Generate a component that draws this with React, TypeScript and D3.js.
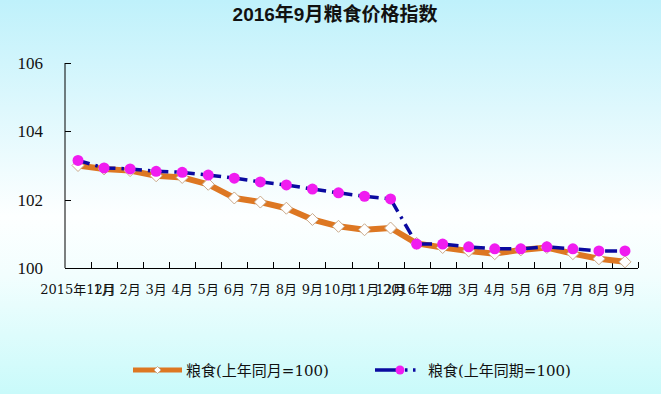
import React from 'react';
import * as d3 from 'd3';

// category labels as printed under the axis
const months = [
  '2015年12月', '1月', '2月', '3月', '4月', '5月', '6月', '7月', '8月', '9月', '10月', '11月',
  '12月', '2016年1月', '2月', '3月', '4月', '5月', '6月', '7月', '8月', '9月'
];
// 上年同月=100
const monthly = [
  103.0, 102.9, 102.85, 102.7, 102.65, 102.45, 102.05, 101.93, 101.75, 101.42, 101.22, 101.12,
  101.17, 100.72, 100.6, 100.5, 100.42, 100.53, 100.6, 100.42, 100.27, 100.18
];
// 上年同期=100
const cumulative = [
  103.15, 102.93, 102.9, 102.83, 102.8, 102.72, 102.63, 102.52, 102.43, 102.31, 102.2, 102.1,
  102.02, 100.7, 100.7, 100.62, 100.56, 100.56, 100.62, 100.56, 100.5, 100.5
];
const yTicks = [100, 102, 104, 106];

const title = '2016年9月粮食价格指数';
const seriesNames = ['粮食(上年同月=100)', '粮食(上年同期=100)'];

const W = 661;
const H = 394;
const left = 65;
const right = 638;
const top = 63;
const bottom = 268;

const ORANGE = '#dd7722';
const NAVY = '#0a0aa0';
const MAGENTA = '#f01cf0';
const DASH = '12,6,2.5,6';

const diamond = (cx: number, cy: number, r: number) =>
  `M${cx},${cy - r}L${cx + r},${cy}L${cx},${cy + r}L${cx - r},${cy}Z`;

const App: React.FC = () => {
  const idx = months.map((_, i) => i);
  const x = d3.scalePoint<number>().domain(idx).range([left, right]).padding(0.5);
  const band = d3.scaleBand<number>().domain(idx).range([left, right]);
  const y = d3.scaleLinear().domain([100, 106]).range([bottom, top]);

  const line = d3.line<number>().x((_, i) => x(i) as number).y(d => y(d));

  const cjk = '"DejaVu Serif", "Noto Sans CJK SC", serif';

  return (
    <svg width={W} height={H} style={{ position: 'absolute', left: 0, top: 0 }}>
      <defs>
        <linearGradient id="bg" x1="0" y1="0" x2="0" y2="1">
          <stop offset="0" stopColor="#bff1fb" />
          <stop offset="0.55" stopColor="#fdffff" />
          <stop offset="0.7" stopColor="#f2fefe" />
          <stop offset="1" stopColor="#c9fafa" />
        </linearGradient>
      </defs>
      <rect width={W} height={H} fill="url(#bg)" />

      <text x={335} y={21} textAnchor="middle" fontSize={19} fontWeight="bold"
        fontFamily='"Liberation Sans", "Noto Sans CJK SC", sans-serif' fill="#111">
        {title}
      </text>

      {/* axes */}
      <line x1={left} x2={left} y1={top} y2={bottom} stroke="#000" />
      <line x1={left} x2={right} y1={bottom + 0.5} y2={bottom + 0.5} stroke="#000" />
      {yTicks.map(t => (
        <g key={t}>
          <line x1={left} x2={left + 6} y1={Math.round(y(t)) + 0.5} y2={Math.round(y(t)) + 0.5} stroke="#000" />
          <text x={43} y={y(t) + 6} textAnchor="end" fontSize={17}
            fontFamily='"Liberation Serif", serif' fill="#111">{t}</text>
        </g>
      ))}
      {idx.slice(1).concat([months.length]).map(i => {
        const tx = Math.round(i === months.length ? right : (band(i) as number)) + 0.5;
        return <line key={i} x1={tx} x2={tx} y1={bottom} y2={bottom - 6} stroke="#000" />;
      })}
      {months.map((m, i) => (
        <text key={i} x={x(i)} y={bottom + 26} textAnchor="middle" fontSize={13}
          fontFamily={cjk} fill="#111">{m}</text>
      ))}

      {/* 上年同月 */}
      <path d={line(monthly) || ''} fill="none" stroke={ORANGE} strokeWidth={6} strokeLinejoin="round" />
      {monthly.map((v, i) => (
        <path key={i} d={diamond(x(i) as number, y(v), 6)} fill="#fff" stroke="#c9a98a" strokeWidth={1} />
      ))}

      {/* 上年同期 */}
      <path d={line(cumulative) || ''} fill="none" stroke={NAVY} strokeWidth={3.5} strokeDasharray={DASH} />
      {cumulative.map((v, i) => (
        <circle key={i} cx={x(i)} cy={y(v)} r={5.5} fill={MAGENTA} />
      ))}

      {/* legend */}
      <line x1={133} x2={182} y1={370} y2={370} stroke={ORANGE} strokeWidth={5} />
      <path d={diamond(157.5, 370, 3.5)} fill="#fff" stroke="#c9a98a" />
      <text x={186} y={376} fontSize={15} fontFamily={cjk} fill="#111">{seriesNames[0]}</text>
      <line x1={375} x2={424} y1={370} y2={370} stroke={NAVY} strokeWidth={3.5} strokeDasharray="22,8,2.5,5.5,2.5,10" />
      <circle cx={400} cy={370} r={4.5} fill={MAGENTA} />
      <text x={428} y={376} fontSize={15} fontFamily={cjk} fill="#111">{seriesNames[1]}</text>
    </svg>
  );
};

export default App;
